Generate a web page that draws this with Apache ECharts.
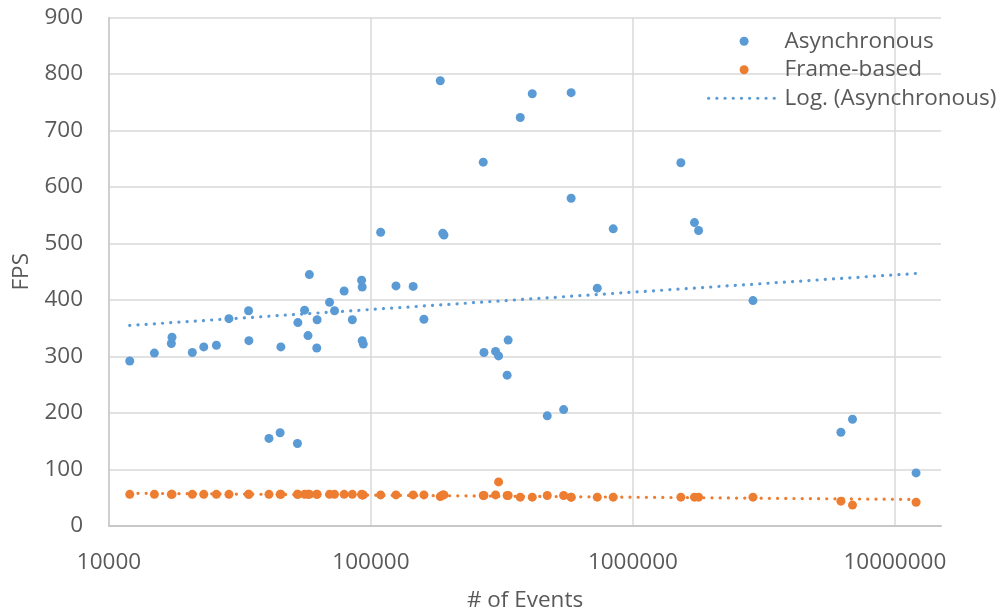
<!DOCTYPE html>
<html>
<head>
<meta charset="utf-8">
<script src="https://cdn.jsdelivr.net/npm/echarts@6/dist/echarts.min.js"></script>
<style>
html,body{margin:0;padding:0;background:#fff;}
#chart{width:1004px;height:614px;}
</style>
</head>
<body>
<div id="chart"></div>
<script>
// # of Events (shared by both series)
const events = [12000, 14900, 17300, 17400, 20800, 23000, 25700, 28700, 34100, 34200,
  40800, 45000, 45300, 52400, 52600, 55800, 57500, 58200, 62100, 62300,
  69500, 72600, 79000, 84900, 92100, 92600, 92600, 93500, 108900, 124600,
  144900, 159300, 183900, 188000, 190000, 268300, 270000, 299000, 307000, 331000,
  334000, 371500, 412800, 471000, 543900, 581000, 581000, 731000, 841000, 1524000,
  1718000, 1781000, 2873000, 6223000, 6890000, 12050000];
const asyncFps = [292, 306, 323, 334, 307, 317, 320, 367, 381, 328,
  155, 165, 317, 146, 360, 382, 337, 445, 315, 365,
  396, 381, 416, 365, 435, 423, 328, 322, 520, 425,
  424, 366, 788, 518, 515, 644, 307, 309, 301, 267,
  329, 723, 765, 195, 206, 767, 580, 421, 526, 643,
  537, 523, 399, 166, 189, 94];
const frameFps = [56, 56, 56, 56, 56, 56, 56, 56, 56, 56,
  56, 56, 56, 56, 56, 56, 56, 56, 56, 56,
  56, 56, 56, 56, 56, 55, 55, 55, 55, 55,
  55, 55, 52, 55, 55, 54, 54, 55, 78, 54,
  54, 51, 51, 54, 54, 51, 51, 51, 51, 51,
  51, 51, 51, 44, 37, 42];
// trendline end points
const asyncTrend = [[12000, 355], [12050000, 447]];
const frameTrend = [[12000, 58], [12050000, 47]];
const yTicks = {min: 0, max: 900, interval: 100};
const xRange = {min: 10000, max: 15000000};

const blue = '#5B9BD5', orange = '#ED7D31';
const font = 'Open Sans';
const txt = '#595959';
const dotted = {width: 3.2, type: [0.1, 8.1], cap: 'round'};

const chart = echarts.init(document.getElementById('chart'), null, {renderer: 'canvas'});
chart.setOption({
  animation: false,
  backgroundColor: '#ffffff',
  grid: {left: 109, right: 63, top: 17.5, bottom: 88, containLabel: false, outerBoundsMode: 'none'},
  legend: {
    orient: 'vertical',
    left: 707, top: 27, padding: 0,
    itemWidth: 71, itemHeight: 9, itemGap: 0,
    textStyle: {fontFamily: font, fontSize: 22.5, color: txt, lineHeight: 28.5},
    data: [
      {name: 'Asynchronous', icon: 'circle'},
      {name: 'Frame-based', icon: 'circle'},
      {name: 'Log. (Asynchronous)', itemStyle: {opacity: 0}, lineStyle: Object.assign({color: blue}, dotted)}
    ]
  },
  xAxis: {
    type: 'log', logBase: 10, min: xRange.min, max: xRange.max,
    name: '# of Events', nameLocation: 'middle', nameGap: 63,
    nameTextStyle: {fontFamily: font, fontSize: 22.5, color: txt},
    axisLine: {show: true, lineStyle: {color: '#c8c8c8', width: 2}},
    axisTick: {show: false},
    axisLabel: {fontFamily: font, fontSize: 22.5, color: txt, margin: 25, showMaxLabel: false,
      formatter: v => String(Math.round(v))},
    splitLine: {show: true, lineStyle: {color: ['#d9d9d9', '#d9d9d9', '#d9d9d9', '#d9d9d9', 'rgba(0,0,0,0)'], width: 1.5}}
  },
  yAxis: {
    type: 'value', min: yTicks.min, max: yTicks.max, interval: yTicks.interval,
    name: 'FPS', nameLocation: 'middle', nameGap: 74,
    nameTextStyle: {fontFamily: font, fontSize: 22.5, color: txt},
    axisLine: {show: true, lineStyle: {color: '#c8c8c8', width: 1.5}},
    axisTick: {show: false},
    axisLabel: {fontFamily: font, fontSize: 22.5, color: txt, margin: 26},
    splitLine: {show: true, lineStyle: {color: '#d9d9d9', width: 1.5}}
  },
  series: [
    {
      name: 'Log. (Asynchronous)', type: 'line', data: asyncTrend,
      symbol: 'none', z: 1,
      lineStyle: Object.assign({color: blue}, dotted),
      itemStyle: {color: blue}
    },
    {
      name: 'Log. (Frame-based)', type: 'line', data: frameTrend,
      symbol: 'none', z: 1,
      lineStyle: Object.assign({color: orange}, dotted),
      itemStyle: {color: orange}
    },
    {
      name: 'Asynchronous', type: 'scatter', symbol: 'circle', symbolSize: 9, z: 3,
      data: events.map((x, i) => [x, asyncFps[i]]),
      itemStyle: {color: blue, opacity: 1}
    },
    {
      name: 'Frame-based', type: 'scatter', symbol: 'circle', symbolSize: 9, z: 3,
      data: events.map((x, i) => [x, frameFps[i]]),
      itemStyle: {color: orange, opacity: 1}
    }
  ]
});
</script>
</body>
</html>
